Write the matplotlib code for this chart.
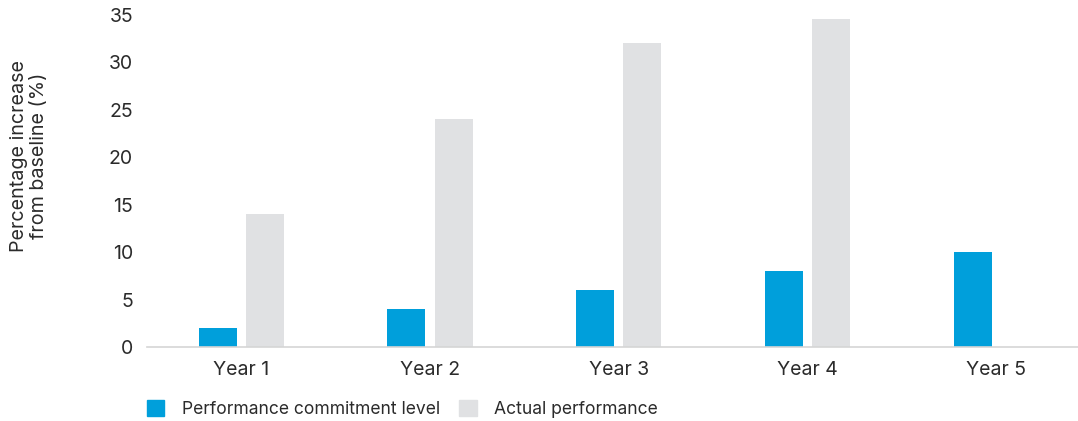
import matplotlib.pyplot as plt
from matplotlib.patches import Patch
import numpy as np

# data
years = ['Year 1', 'Year 2', 'Year 3', 'Year 4', 'Year 5']
commitment = [2, 4, 6, 8, 10]
actual = [14, 24, 32, 34.6, 0]

blue = '#009FDB'
grey = '#E0E1E3'
text_col = '#2B2B2B'

plt.rcParams['font.family'] = ['Inter', 'DejaVu Sans']

fig = plt.figure(figsize=(10.78, 4.21), dpi=100)
# axes runs a little past the right edge, as in the reference
ax = fig.add_axes([147 / 1078, 74 / 421, 943.5 / 1078, 332 / 421])

x = np.arange(len(years))
w = 0.201
off = 0.125
ax.bar(x - off, commitment, w, color=blue)
ax.bar(x + off, actual, w, color=grey)

ax.set_xlim(-0.5, 4.5)
ax.set_ylim(0, 35)
ax.set_yticks(range(0, 36, 5))
ax.set_xticks(x)
ax.set_xticklabels(years)
ax.tick_params(axis='both', length=0, labelsize=14, colors=text_col)
ax.tick_params(axis='y', pad=10)
ax.tick_params(axis='x', pad=10)

for s in ['top', 'right', 'left']:
    ax.spines[s].set_visible(False)
ax.spines['bottom'].set_color('#D5D5D5')
ax.spines['bottom'].set_linewidth(1.2)

fig.text(29 / 1078, 1 - 156 / 421, 'Percentage increase\nfrom baseline (%)',
         rotation=90, ha='center', va='center', fontsize=14.2, color=text_col,
         linespacing=1.2)

handles = [Patch(color=blue, label='Performance commitment level'),
           Patch(color=grey, label='Actual performance')]
fig.legend(handles=handles, loc='center left', ncol=2,
           bbox_to_anchor=(131 / 1078, 1 - 409 / 421), frameon=False,
           fontsize=12.6, handlelength=1.0, handleheight=1.0,
           handletextpad=1.0, columnspacing=1.1, labelcolor=text_col)

fig.savefig('out.png', dpi=100)
